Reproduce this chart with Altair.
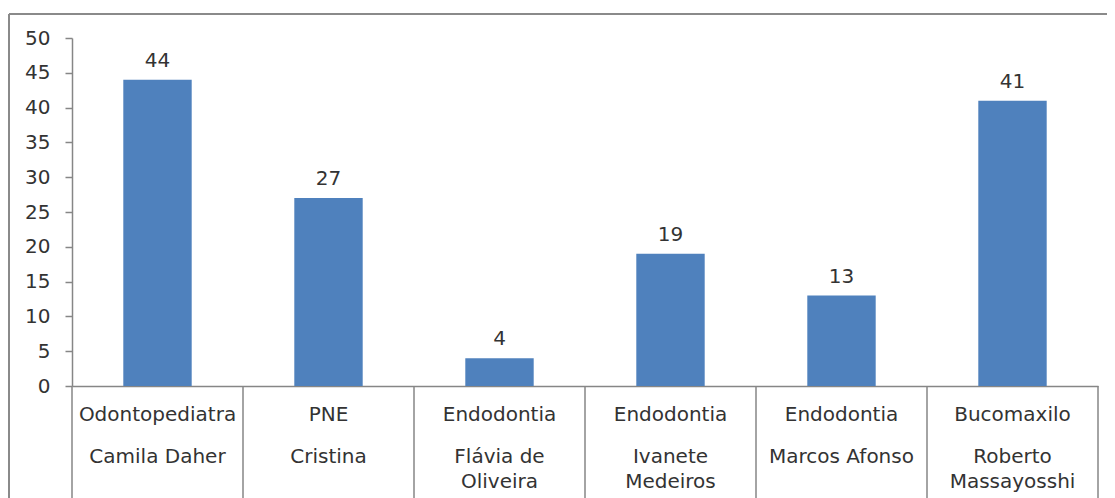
import altair as alt
import pandas as pd

especialidades = ["Odontopediatra", "PNE", "Endodontia", "Endodontia", "Endodontia", "Bucomaxilo"]
profissionais = ["Camila Daher", "Cristina", "Flávia de\nOliveira", "Ivanete\nMedeiros",
                 "Marcos Afonso", "Roberto\nMassayosshi"]
valores = [44, 27, 4, 19, 13, 41]
y_ticks = [0, 5, 10, 15, 20, 25, 30, 35, 40, 45, 50]

chaves = [f"{i}|{e}|{p}" for i, (e, p) in enumerate(zip(especialidades, profissionais))]
df = pd.DataFrame({"chave": chaves, "esp": especialidades, "prof": profissionais, "valor": valores})
sep_df = pd.DataFrame({"b": list(range(len(chaves) + 1))})
frame_df = pd.DataFrame({"k": [0]})

FONT = "DejaVu Sans"
FS = 20
TXT = "#333333"
AX = "#868686"
W, H = 1026, 348

band = alt.Scale(domain=chaves, paddingInner=0.6, paddingOuter=0.3)
xb = alt.X("chave:N", scale=band, sort=chaves, title=None,
           axis=alt.Axis(labels=False, ticks=False, domainColor=AX, domainWidth=1.5, title=None))
xb_none = alt.X("chave:N", scale=band, sort=chaves, axis=None)
yscale = alt.Scale(domain=[0, 50], nice=False)
yaxis = alt.Axis(values=y_ticks, grid=False, title=None, labelFont=FONT, labelFontSize=FS,
                 labelColor=TXT, labelPadding=15, tickSize=7, tickColor=AX, domainColor=AX,
                 domainWidth=1.5, tickWidth=1.5, labelOverlap=False, labelFlush=False)

bars = alt.Chart(df).mark_bar(color="#4F81BD").encode(
    x=xb,
    y=alt.Y("valor:Q", scale=yscale, axis=yaxis),
)

labels = alt.Chart(df).mark_text(font=FONT, fontSize=FS, color=TXT, baseline="alphabetic", dy=-13).encode(
    x=xb_none, y=alt.Y("valor:Q", scale=yscale, axis=yaxis), text="valor:Q"
)

row1 = alt.Chart(df).mark_text(font=FONT, fontSize=FS, color=TXT, baseline="alphabetic").encode(
    x=xb_none, y=alt.value(383), text="esp:N"
)
row2 = alt.Chart(df).mark_text(font=FONT, fontSize=FS, color=TXT, baseline="alphabetic",
                               lineBreak="\n", lineHeight=25).encode(
    x=xb_none, y=alt.value(425), text="prof:N"
)

seps = alt.Chart(sep_df).mark_rule(color=AX, strokeWidth=1.5).encode(
    x=alt.X("b:Q", scale=alt.Scale(domain=[0, len(chaves)], nice=False, zero=False), axis=None),
    y=alt.value(H), y2=alt.value(470)
)

frame_top = alt.Chart(frame_df).mark_rule(color="#8a8a8a", strokeWidth=2).encode(
    x=alt.value(-63), x2=alt.value(W + 20), y=alt.value(-24)
)
frame_left = alt.Chart(frame_df).mark_rule(color="#8a8a8a", strokeWidth=2).encode(
    x=alt.value(-63), y=alt.value(-24), y2=alt.value(470)
)

chart = alt.layer(bars, labels, row1, row2, seps, frame_top, frame_left).resolve_scale(
    x="independent"
).properties(
    width=W, height=H,
    background="white",
    autosize=alt.AutoSizeParams(type="none"),
    padding={"left": 64, "top": 30, "right": 9, "bottom": 112},
).configure_view(strokeWidth=0, stroke="transparent")

chart.save("out.html", embed_options={"renderer": "svg", "actions": False})
